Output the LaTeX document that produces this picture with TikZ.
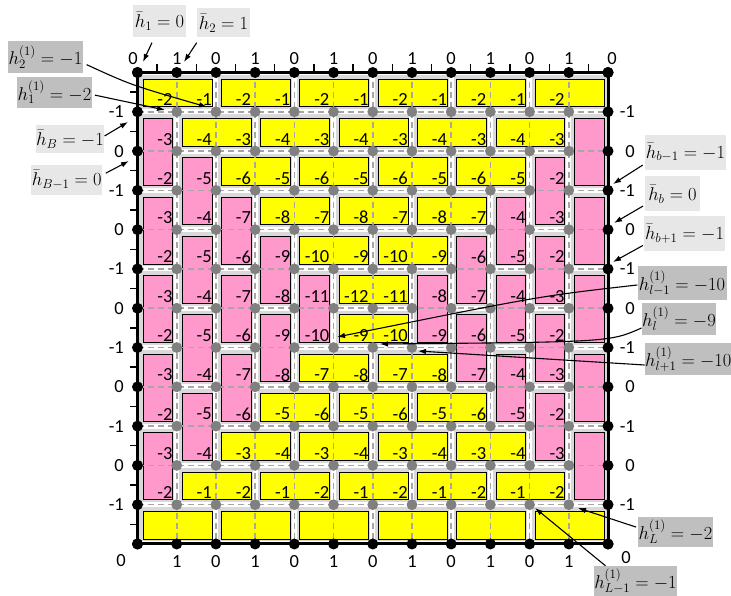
\RequirePackage{fix-cm}
\documentclass[tikz,border=0pt]{standalone}
\usepackage[no-math]{fontspec}
\setmainfont{Carlito}
\usetikzlibrary{arrows.meta}
\definecolor{dompink}{RGB}{255,153,204}
\definecolor{domyellow}{RGB}{255,255,0}
\definecolor{bandgray}{RGB}{217,217,217}
\definecolor{dashgray}{RGB}{166,166,166}
\definecolor{dotgray}{RGB}{128,128,128}
\definecolor{boxlight}{RGB}{231,231,231}
\definecolor{boxdark}{RGB}{191,191,191}
\def\ox{137.5}\def\oy{72.5}\def\sx{39.21}\def\sy{39.29}
\def\hlist{0/0,2/0,4/0,6/0,8/0,10/0,1/1,3/1,5/1,7/1,9/1,2/2,4/2,6/2,8/2,3/3,5/3,7/3,4/4,6/4,5/5,5/6,4/7,6/7,3/8,5/8,7/8,2/9,4/9,6/9,8/9,1/10,3/10,5/10,7/10,9/10,0/11,2/11,4/11,6/11,8/11,10/11}
\def\vlist{0/1,0/3,0/5,0/7,0/9,1/2,1/4,1/6,1/8,2/3,2/5,2/7,3/4,3/6,4/5,7/5,8/4,8/6,9/3,9/5,9/7,10/2,10/4,10/6,10/8,11/1,11/3,11/5,11/7,11/9}
\tikzset{
  wline/.style={draw=white, line width=5pt},
  hdom/.style={fill=domyellow, draw=black, line width=0.7pt},
  vdom/.style={fill=dompink, draw=black, line width=0.7pt},
  dashln/.style={draw=dashgray, line width=1.6pt, dash pattern=on 6pt off 4pt},
  num/.style={inner sep=0pt, anchor=east, font=\fontsize{18.5}{20}\selectfont},
  blab/.style={inner sep=0pt, font=\fontsize{18.5}{20}\selectfont},
  gdot/.style={circle, fill=dotgray, inner sep=0pt, minimum size=10.8pt},
  bdot/.style={circle, fill=black, inner sep=0pt, minimum size=11pt},
  bticks/.style={line width=1.4pt},
  lbox/.style={fill=boxlight, inner sep=0.5pt, font=\fontsize{18.5}{20}\selectfont},
  dbox/.style={fill=boxdark, inner sep=0.5pt, font=\fontsize{18.5}{20}\selectfont},
  arr/.style={-{Latex[length=8pt,width=5.5pt]}, line width=1.1pt}
}
\begin{document}
\begin{tikzpicture}[x=1pt,y=-1pt]
\useasboundingbox (0,0) rectangle (731,596);
% background band
\fill[bandgray] (\ox,\oy) rectangle ({\ox+12*\sx},{\oy+12*\sy});
% white lines along domino edges
\begin{scope}
\clip ({\ox+2.5},{\oy+2.5}) rectangle ({\ox+12*\sx-2.5},{\oy+12*\sy-2.5});
\foreach \cc/\rr in \hlist {\draw[wline] ({\ox+\cc*\sx},{\oy+\rr*\sy}) rectangle ({\ox+(\cc+2)*\sx},{\oy+(\rr+1)*\sy});}
\foreach \cc/\rr in \vlist {\draw[wline] ({\ox+\cc*\sx},{\oy+\rr*\sy}) rectangle ({\ox+(\cc+1)*\sx},{\oy+(\rr+2)*\sy});}
\end{scope}
% dominoes
\foreach \cc/\rr in \hlist {\draw[hdom] ({\ox+\cc*\sx+5.5},{\oy+\rr*\sy+6.5}) rectangle ({\ox+(\cc+2)*\sx-4},{\oy+(\rr+1)*\sy-5});}
\foreach \cc/\rr in \vlist {\draw[vdom] ({\ox+\cc*\sx+5.5},{\oy+\rr*\sy+6.5}) rectangle ({\ox+(\cc+1)*\sx-4},{\oy+(\rr+2)*\sy-5});}
% dashed grid
\foreach \k in {1,...,11} {
  \draw[dashln] ({\ox+\k*\sx},\oy) -- ({\ox+\k*\sx},{\oy+12*\sy});
  \draw[dashln] (\ox,{\oy+\k*\sy}) -- ({\ox+12*\sx},{\oy+\k*\sy});
}
% numbers
\foreach \rr/\vals in {1/{-2,-1,-2,-1,-2,-1,-2,-1,-2,-1,-2},2/{-3,-4,-3,-4,-3,-4,-3,-4,-3,-4,-3},3/{-2,-5,-6,-5,-6,-5,-6,-5,-6,-5,-2},4/{-3,-4,-7,-8,-7,-8,-7,-8,-7,-4,-3},5/{-2,-5,-6,-9,-10,-9,-10,-9,-6,-5,-2},6/{-3,-4,-7,-8,-11,-12,-11,-8,-7,-4,-3},7/{-2,-5,-6,-9,-10,-9,-10,-9,-6,-5,-2},8/{-3,-4,-7,-8,-7,-8,-7,-8,-7,-4,-3},9/{-2,-5,-6,-5,-6,-5,-6,-5,-6,-5,-2},10/{-3,-4,-3,-4,-3,-4,-3,-4,-3,-4,-3},11/{-2,-1,-2,-1,-2,-1,-2,-1,-2,-1,-2}}
{\foreach \v [count=\cc] in \vals {\node[num] (n-\rr-\cc) at ({\ox+\cc*\sx-4},{\oy+\rr*\sy-12}) {\v};}}
% boundary
\draw[line width=3pt] (\ox,\oy) rectangle ({\ox+12*\sx},{\oy+12*\sy});
\foreach \k in {0,...,11} {
  \draw[bticks] ({\ox+(\k+0.5)*\sx},\oy) -- ++(0,-8);
  \draw[bticks] (\ox,{\oy+(\k+0.5)*\sy}) -- ++(-8,0);
}
% dots
\foreach \rr in {1,...,11} {\foreach \cc in {1,...,11} {\node[gdot] (v-\rr-\cc) at ({\ox+\cc*\sx},{\oy+\rr*\sy}) {};}}
\foreach \k in {0,...,12} {
  \node[bdot] (vt-\k) at ({\ox+\k*\sx},\oy) {};
  \node[bdot] (vb-\k) at ({\ox+\k*\sx},{\oy+12*\sy}) {};
  \node[bdot] (vl-\k) at (\ox,{\oy+\k*\sy}) {};
  \node[bdot] (vr-\k) at ({\ox+12*\sx},{\oy+\k*\sy}) {};
}
% boundary labels
\foreach \k/\t in {1/1,2/0,3/1,4/0,5/1,6/0,7/1,8/0,9/1,10/0,11/1} {
  \node[blab] (lt-\k) at ({\ox+\k*\sx},59) {\t};
  \node[blab] (lb-\k) at ({\ox+\k*\sx},562) {\t};
}
\foreach \k/\t in {1/-1,2/0,3/-1,4/0,5/-1,6/0,7/-1,8/0,9/-1,10/0,11/-1} {
  \node[blab, anchor=east] (ll-\k) at (124,{\oy+\k*\sy}) {\t};
  \node[blab, anchor=east] (lr-\k) at (635,{\oy+\k*\sy}) {\t};
}
\node[blab] (ltl) at (133,59) {0};
\node[blab] (ltr) at (612,59) {0};
\node[blab] (lbl) at (121,561) {0};
\node[blab] (lbr) at (626,558) {0};
% callout boxes
\node[lbox, minimum width=53, minimum height=32] (b1) at (159.5,21) {$\bar{h}_1=0$};
\node[lbox, minimum width=53, minimum height=29] (b2) at (223.5,23) {$\bar{h}_2=1$};
\node[dbox, minimum width=73, minimum height=32] (b3) at (45.5,57) {$h_2^{(1)}=-1$};
\node[dbox, minimum width=73, minimum height=31] (b4) at (54.5,92.5) {$h_1^{(1)}=-2$};
\node[lbox, minimum width=64, minimum height=28] (b5) at (70,139) {$\bar{h}_B=-1$};
\node[lbox, minimum width=67, minimum height=30] (b6) at (66.7,180) {$\bar{h}_{B-1}=0$};
\node[lbox, minimum width=79, minimum height=35] (b7) at (685.5,152.5) {$\bar{h}_{b-1}=-1$};
\node[lbox, minimum width=55, minimum height=35] (b8) at (672.5,194) {$\bar{h}_b=0$};
\node[lbox, minimum width=81, minimum height=35] (b9) at (684.5,234) {$\bar{h}_{b+1}=-1$};
\node[dbox, minimum width=89, minimum height=34] (b10) at (682,283) {$h_{l-1}^{(1)}=-10$};
\node[dbox, minimum width=72, minimum height=32] (b11) at (679,319) {$h_{l}^{(1)}=-9$};
\node[dbox, minimum width=80, minimum height=32] (b12) at (688.3,359) {$h_{l+1}^{(1)}=-10$};
\node[dbox, minimum width=72, minimum height=30] (b13) at (675.5,531.7) {$h_{L}^{(1)}=-2$};
\node[dbox, minimum width=74, minimum height=30] (b14) at (635.5,581) {$h_{L-1}^{(1)}=-1$};
% arrow targets and controls
\coordinate (t1) at (143,62);
\coordinate (t2) at (184,62);
\coordinate (t3) at (207,107); \coordinate (c3) at (131,85);
\coordinate (t4) at (165,110);
\coordinate (t5) at (128,122);
\coordinate (t6) at (129,161);
\coordinate (t7) at (613,184);
\coordinate (t8) at (614,223);
\coordinate (t9) at (613,262);
\coordinate (t10) at (337,337); \coordinate (c10) at (540,296);
\coordinate (t11) at (380,344); \coordinate (c11) at (610,342);
\coordinate (t12) at (418,351);
\coordinate (t13) at (578,508);
\coordinate (t14) at (535,508);
% arrows
\draw[arr, shorten <=6pt] ([xshift=-5pt]b1.south) -- (t1);
\draw[arr, shorten <=6pt] ([xshift=-23.5pt]b2.south) -- (t2);
\draw[arr, shorten <=4pt] ([yshift=-6pt]b3.east) .. controls (c3) .. (t3);
\draw[arr, shorten <=3pt] ([yshift=-2pt]b4.east) -- (t4);
\draw[arr] ([yshift=3pt]b5.east) -- (t5);
\draw[arr, shorten <=4pt] ([yshift=5pt]b6.east) -- (t6);
\draw[arr, shorten <=3pt] ([yshift=-11pt]b7.west) -- (t7);
\draw[arr, shorten <=2pt] ([yshift=-11pt]b8.west) -- (t8);
\draw[arr, shorten <=1pt] ([yshift=-11pt]b9.west) -- (t9);
\draw[arr] ([yshift=-2pt]b10.west) .. controls (c10) .. (t10);
\draw[arr] ([yshift=-9pt]b11.west) .. controls (c11) .. (t11);
\draw[arr] ([yshift=-6pt]b12.west) -- (t12);
\draw[arr, shorten <=2pt] ([yshift=4pt]b13.west) -- (t13);
\draw[arr] ([xshift=-30pt]b14.north) -- (t14);
\end{tikzpicture}
\end{document}
